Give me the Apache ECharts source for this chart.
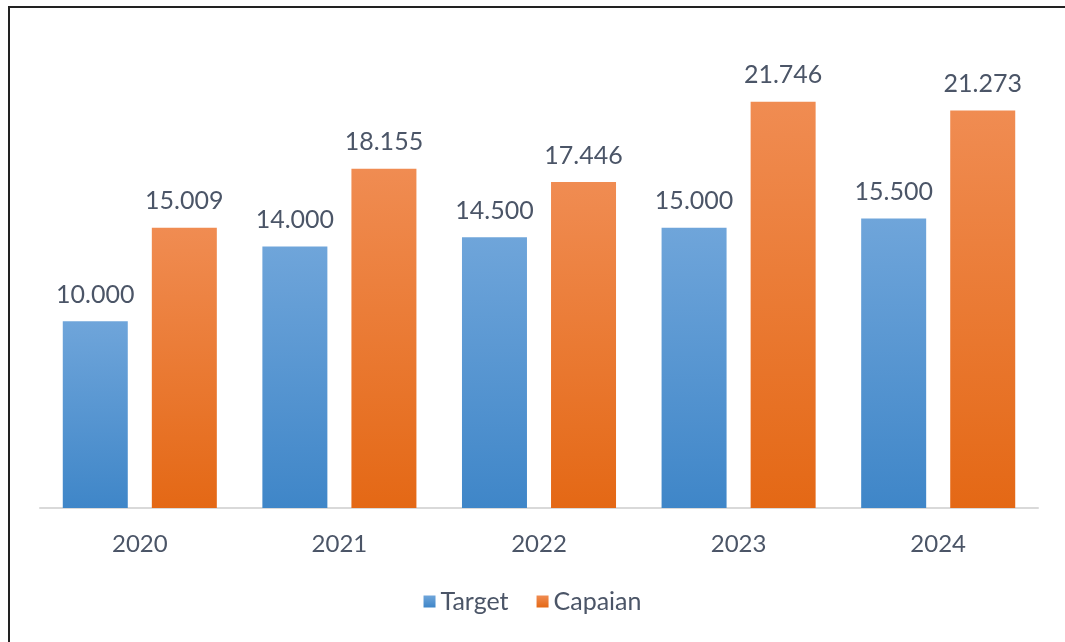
<!DOCTYPE html>
<html>
<head>
<meta charset="utf-8">
<script src="https://cdn.jsdelivr.net/npm/echarts@6/dist/echarts.min.js"></script>
<style>
  html, body { margin: 0; padding: 0; overflow: hidden; background: #fff; }
  #frame { position: absolute; left: 8px; top: 6px; width: 1200px; height: 800px;
           border-left: 2px solid #222; border-top: 2px solid #222; }
  #chart { position: absolute; left: 0; top: 0; width: 1065px; height: 642px; }
</style>
</head>
<body>
<div id="frame"></div>
<div id="chart"></div>
<script>
var years = ['2020', '2021', '2022', '2023', '2024'];
var target = [10.000, 14.000, 14.500, 15.000, 15.500];
var capaian = [15.009, 18.155, 17.446, 21.746, 21.273];

var font = 'Lato, "Open Sans", sans-serif';
var textColor = '#4b5567';

function grad(top, bottom) {
    return new echarts.graphic.LinearGradient(0, 0, 0, 1, [
        { offset: 0, color: top },
        { offset: 1, color: bottom }
    ]);
}

var myChart = echarts.init(document.getElementById('chart'));
myChart.setOption({
    animation: false,
    textStyle: { fontFamily: font },
    grid: { left: 40, right: 27, top: 41, bottom: 134, containLabel: false },
    legend: {
        bottom: 23,
        left: 'center',
        itemWidth: 12,
        itemHeight: 12,
        itemGap: 28,
        icon: 'rect',
        textStyle: { fontSize: 25, color: textColor, fontFamily: font },
        data: ['Target', 'Capaian']
    },
    xAxis: {
        type: 'category',
        data: years,
        axisLine: { lineStyle: { color: '#d9d9d9', width: 2 } },
        axisTick: { show: false },
        axisLabel: { fontSize: 24, color: textColor, margin: 24, fontFamily: font }
    },
    yAxis: {
        type: 'value',
        min: 0,
        max: 25,
        show: false,
        splitLine: { show: false }
    },
    series: [
        {
            name: 'Target',
            type: 'bar',
            data: target,
            barWidth: 65,
            barGap: '37%',
            itemStyle: { color: grad('#6fa5da', '#3f86c8') },
            label: {
                show: true,
                position: 'top',
                distance: 14,
                fontSize: 25,
                color: textColor,
                fontFamily: font,
                formatter: function (p) { return p.value.toFixed(3); }
            }
        },
        {
            name: 'Capaian',
            type: 'bar',
            data: capaian,
            barWidth: 65,
            itemStyle: { color: grad('#f08c52', '#e46815') },
            label: {
                show: true,
                position: 'top',
                distance: 14,
                fontSize: 25,
                color: textColor,
                fontFamily: font,
                formatter: function (p) { return p.value.toFixed(3); }
            }
        }
    ]
});
</script>
</body>
</html>
